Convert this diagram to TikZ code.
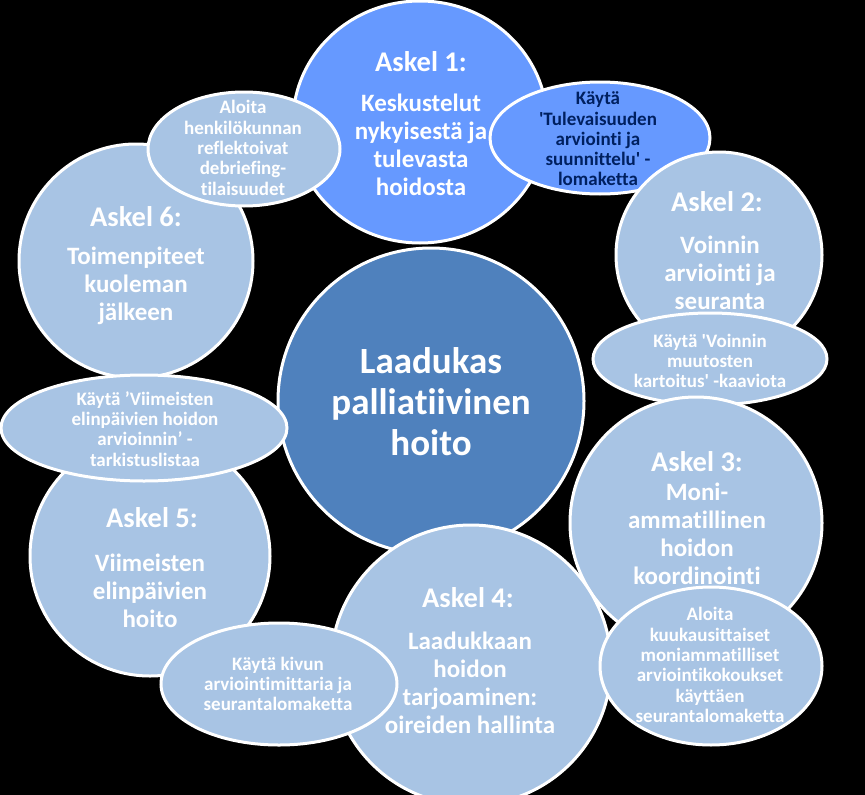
\documentclass[tikz,border=0pt]{standalone}
\usepackage{fontspec}
\setmainfont{Carlito}[Ligatures={NoCommon}]
\usepackage{tikz}
\usetikzlibrary{shapes.geometric}
\definecolor{stepblue}{RGB}{168,196,228}
\definecolor{firstblue}{RGB}{102,153,255}
\definecolor{coreblue}{RGB}{79,129,189}
\definecolor{navytext}{RGB}{0,32,96}
\tikzset{
  % Step circle: light blue fill, white rim
  stepball/.style={draw=white, circle, fill=stepblue, line width=3pt, inner sep=0pt},
  stepball-first/.style={stepball, ellipse, fill=firstblue},
  coreball/.style={stepball, fill=coreblue},
  % Tool ellipse beside a step
  toolegg/.style={draw=white, ellipse, fill=stepblue, line width=3pt, inner sep=0pt},
  toolegg-first/.style={toolegg, fill=firstblue},
  % Texts
  headtxt/.style={text=white, font=\bfseries\fontsize{28.5}{28}\selectfont, inner sep=0pt},
  bodytxt/.style={text=white, align=center, font=\bfseries\fontsize{25}{28}\selectfont, inner sep=0pt},
  tooltxt/.style={text=white, align=center, font=\bfseries\fontsize{19}{20.3}\selectfont, inner sep=0pt},
  coretxt/.style={text=white, align=center, font=\bfseries\fontsize{37}{41}\selectfont, inner sep=0pt}
}
\begin{document}
\begin{tikzpicture}[x=1pt, y=-1pt]

\fill[black] (0,0) rectangle (865,795);
\useasboundingbox (0,0) rectangle (865,795);

% ============== CENTRE ==============
\node[coreball, minimum size=306pt] (core) at (431,401) {};
\node[coretxt] (coret) at (431,402) {Laadukas\\palliatiivinen\\hoito};

% ============== STEP 1 ==============
\node[stepball-first, minimum width=254pt, minimum height=242pt] (s1) at (420,122) {};
\node[headtxt] (s1h) at (421,62) {Askel 1:};
\node[bodytxt] (s1b) at (421,145) {Keskustelut\\nykyisestä ja\\tulevasta\\hoidosta};

\node[toolegg-first, minimum width=220pt, minimum height=112pt] (e1) at (600,138) {};
\node[tooltxt, text=navytext] (e1t) at (598,139) {Käytä\\\textquotesingle Tulevaisuuden\\arviointi ja\\suunnittelu\textquotesingle\ -\\lomaketta};

% ============== STEP 2 ==============
\node[stepball, minimum size=206pt] (s2) at (719,255) {};
\node[headtxt] (s2h) at (717,202) {Askel 2:};
\node[bodytxt] (s2b) at (720,273) {Voinnin\\arviointi ja\\seuranta};

\node[toolegg, minimum width=234pt, minimum height=92pt] (e2) at (710,359) {};
\node[tooltxt] (e2t) at (710,361) {Käytä \textquotesingle Voinnin\\muutosten\\kartoitus\textquotesingle\ -kaaviota};

% ============== STEP 3 ==============
\node[stepball, minimum size=252pt] (s3) at (696,523) {};
\node[headtxt] (s3h) at (697,462) {Askel 3:};
\node[bodytxt] (s3b) at (697,534) {Moni-\\ammatillinen\\hoidon\\koordinointi};

% ============== STEP 4 ==============
\node[stepball, minimum size=280pt] (s4) at (471,665) {};
\node[headtxt] (s4h) at (468,598) {Askel 4:};
\node[bodytxt] (s4b) at (470,683) {Laadukkaan\\hoidon\\tarjoaminen:\\oireiden hallinta};

\node[toolegg, minimum width=222pt, minimum height=158pt] (e3) at (711,666) {};
\node[tooltxt] (e3t) at (710,665) {Aloita\\kuukausittaiset\\moniammatilliset\\arviointikokoukset\\käyttäen\\seurantalomaketta};

% ============== STEP 5 ==============
\node[stepball, minimum size=240pt] (s5) at (150,556) {};
\node[headtxt] (s5h) at (152,518) {Askel 5:};
\node[bodytxt] (s5b) at (150,591) {Viimeisten\\elinpäivien\\hoito};

\node[toolegg, minimum width=236pt, minimum height=122pt] (e4) at (279,684) {};
\node[tooltxt] (e4t) at (278,684) {Käytä kivun\\arviointimittaria ja\\seurantalomaketta};

% ============== STEP 6 ==============
\node[stepball, minimum size=234pt] (s6) at (136,261) {};
\node[headtxt] (s6h) at (136,217) {Askel 6:};
\node[bodytxt] (s6b) at (136,286) {Toimenpiteet\\kuoleman\\jälkeen};

\node[toolegg, minimum width=286pt, minimum height=106pt] (e5) at (144,428) {};
\node[tooltxt] (e5t) at (145,429) {Käytä ’Viimeisten\\elinpäivien hoidon\\arvioinnin’ -\\tarkistuslistaa};

\node[toolegg, minimum width=192pt, minimum height=114pt] (e6) at (244,149) {};
\node[tooltxt] (e6t) at (243,148) {Aloita\\henkilökunnan\\reflektoivat\\debriefing-\\tilaisuudet};

\end{tikzpicture}
\end{document}
